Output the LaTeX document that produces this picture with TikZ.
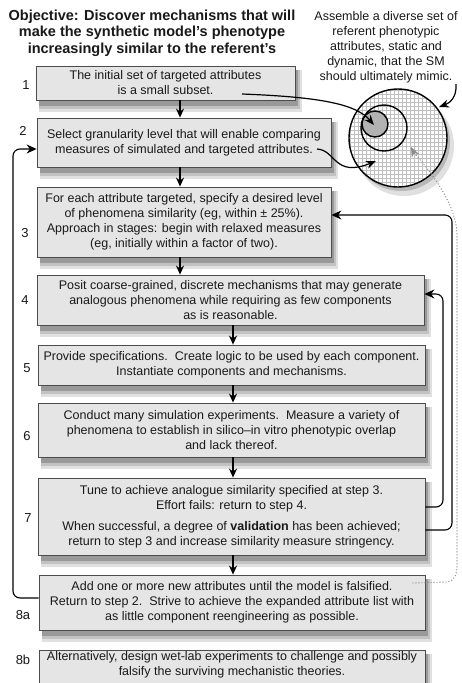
\documentclass[tikz,border=0pt]{standalone}
\usepackage{fontspec}
\setmainfont{Liberation Sans}
\usetikzlibrary{arrows.meta,calc}
\newcommand\myshadow[4]{%
  \fill[black!12] (#1+3,#2+4) rectangle (#3+7,#4+12);
  \fill[black!24] (#1+3,#2+4) rectangle (#3+5,#4+9);
  \fill[black!40] (#1+3,#2+4) rectangle (#3+3,#4+6);
}
\begin{document}
\begin{tikzpicture}[x=1pt,y=-1pt,
  box/.style={draw=black!70, line width=0.8pt, fill=black!10, align=center, inner sep=0pt,
    font=\fontsize{12.5}{15}\selectfont, text=black!90},
  num/.style={font=\fontsize{13}{15}\selectfont, text=black!90},
  dn/.style={-{Stealth[length=9pt,width=8pt]}, line width=1.3pt},
  fb/.style={-{Stealth[length=10pt,width=9pt]}, line width=1.1pt, rounded corners=7pt},
  cv/.style={-{Stealth[length=10pt,width=8pt]}, line width=1.2pt},
  ring/.style={line width=1.4pt, draw=black}]
\useasboundingbox (0,0) rectangle (462,683);
\clip (0,0) rectangle (462,683);
\fill[white] (0,0) rectangle (462,683);

% shadows
\myshadow{36}{66}{295}{100}
\myshadow{37}{118}{331}{167}
\myshadow{37}{187}{331}{257}
\myshadow{37}{275}{424}{325}
\myshadow{38}{345}{425}{385}
\myshadow{38}{403}{425}{457}
\myshadow{38}{478}{425}{555}
\myshadow{39}{575}{425}{630}
\myshadow{39}{650}{425}{700}
\fill[black!12] (404,146) circle (50);
\fill[black!28] (401,142) circle (49);

% title and note
\node[font=\fontsize{14.5}{16.5}\selectfont\bfseries, align=center, text=black!90] (title) at (152,33)
  {Objective: Discover mechanisms that will\\make the synthetic model's phenotype\\increasingly similar to the referent's};
\node[font=\fontsize{12.5}{15}\selectfont, align=center, text=black!90] (note) at (386,47)
  {Assemble a diverse set of\\referent phenotypic\\attributes, static and\\dynamic, that the SM\\should ultimately mimic.};

% circles
\begin{scope}
  \clip (398,138) circle (49);
  \fill[white] (398,138) circle (49);
  \foreach \i in {0,...,26} {
    \draw[black!25, line width=0.35pt] (346+4*\i,86) -- (346+4*\i,190);
    \draw[black!25, line width=0.35pt] (346,86+4*\i) -- (450,86+4*\i);
  }
\end{scope}
\fill[black!30] (375,124) circle (13);
\node[circle, minimum size=98pt, inner sep=0pt, ring] (big) at (398,138) {};
\node[circle, minimum size=46pt, inner sep=0pt, ring] (mid) at (384,128) {};
\node[circle, minimum size=26pt, inner sep=0pt, ring] (small) at (375,124) {};

% boxes
\node[box, minimum width=259pt, minimum height=34pt] (b1) at (165.5,83)
  {The initial set of targeted attributes\\is a small subset.};
\node[box, minimum width=294pt, minimum height=49pt] (b2) at (184,142.5)
  {Select granularity level that will enable comparing\\measures of simulated and targeted attributes.};
\node[box, minimum width=294pt, minimum height=70pt] (b3) at (184,222)
  {For each attribute targeted, specify a desired level\\of phenomena similarity (eg, within \textpm{} 25\%).\\Approach in stages: begin with relaxed measures\\(eg, initially within a factor of two).};
\node[box, minimum width=387pt, minimum height=50pt] (b4) at (230.5,300)
  {Posit coarse-grained, discrete mechanisms that may generate\\analogous phenomena while requiring as few components\\as is reasonable.};
\node[box, minimum width=387pt, minimum height=40pt] (b5) at (231.5,365)
  {Provide specifications.\ \ Create logic to be used by each component.\\Instantiate components and mechanisms.};
\node[box, minimum width=387pt, minimum height=54pt] (b6) at (231.5,430)
  {Conduct many simulation experiments.\ \ Measure a variety of\\phenomena to establish in silico--in vitro phenotypic overlap\\and lack thereof.};
\node[box, minimum width=387pt, minimum height=77pt] (b7) at (231.5,516.5)
  {Tune to achieve analogue similarity specified at step 3.\\Effort fails: return to step 4.\\[6pt]When successful, a degree of \textbf{validation} has been achieved;\\return to step 3 and increase similarity measure stringency.};
\node[box, minimum width=386pt, minimum height=55pt] (b8a) at (232,602.5)
  {Add one or more new attributes until the model is falsified.\\Return to step 2.\ \ Strive to achieve the expanded attribute list with\\as little component reengineering as possible.};
\node[box, minimum width=386pt, minimum height=50pt, anchor=north] (b8b) at (232,650) {};
\node[font=\fontsize{12.5}{15}\selectfont, text=black!90, align=center] (b8bt) at (232,665)
  {Alternatively, design wet-lab experiments to challenge and possibly\\falsify the surviving mechanistic theories.};

% numbers
\node[num] (n1) at (26,85) {1};
\node[num] (n2) at (23,131) {2};
\node[num] (n3) at (25,233) {3};
\node[num] (n4) at (25,300) {4};
\node[num] (n5) at (27,368) {5};
\node[num] (n6) at (27,436) {6};
\node[num] (n7) at (28,518) {7};
\node[num] (n8a) at (23,615) {8a};
\node[num] (n8b) at (23,660) {8b};

% down arrows
\coordinate (xa) at (180,0);
\coordinate (xb) at (233,0);
\draw[dn] (b1.south -| xa) -- (b2.north -| xa);
\draw[dn] (b2.south -| xa) -- (b3.north -| xa);
\draw[dn] (b3.south -| xa) -- (b4.north -| xa);
\draw[dn] (b4.south -| xb) -- (b5.north -| xb);
\draw[dn] (b5.south -| xb) -- (b6.north -| xb);
\draw[dn] (b6.south -| xb) -- (b7.north -| xb);
\draw[dn] (b7.south -| xb) -- (b8a.north -| xb);

% feedback arrows
\coordinate (r1) at (452,215);
\coordinate (r2) at (443,294);
\coordinate (r3) at (13,149);
\draw[fb] ([yshift=-13.5pt]b7.east) -| (r1) -- (b3.east |- r1);
\draw[fb] ([yshift=9.5pt]b7.east) -| (r2) -- (b4.east |- r2);
\draw[fb] ([yshift=4.5pt]b8a.west) -| (r3) -- (b2.west |- r3);

% curved arrows to circles
\coordinate (c1s) at (242,94);
\coordinate (c1e) at (374,125);
\draw[cv] (c1s) .. controls (320,97) and (356,104) .. (c1e);
\coordinate (c2s) at (317,149);
\coordinate (c2e) at (376,161);
\draw[cv] (c2s) .. controls (336,150) and (334,178) .. (c2e);
\coordinate (c3s) at (456,84);
\coordinate (c3e) at (439,107);
\draw[cv] (c3s) .. controls (457,97) and (450,103) .. (c3e);

% dotted feedback
\coordinate (d0) at (413,583);
\coordinate (d1) at (411,147);
\draw[black!45, line width=1.4pt, line cap=round, dash pattern=on 0pt off 3pt]
  (d0) -- (446,582) .. controls (455,581) and (457,575) .. (457,565) -- (457,235)
  .. controls (457,205) and (430,170) .. (413,152);
\draw[black!45, line width=1pt, -{Stealth[length=10pt,width=8pt]}] (414,153) -- (d1);
\end{tikzpicture}
\end{document}
